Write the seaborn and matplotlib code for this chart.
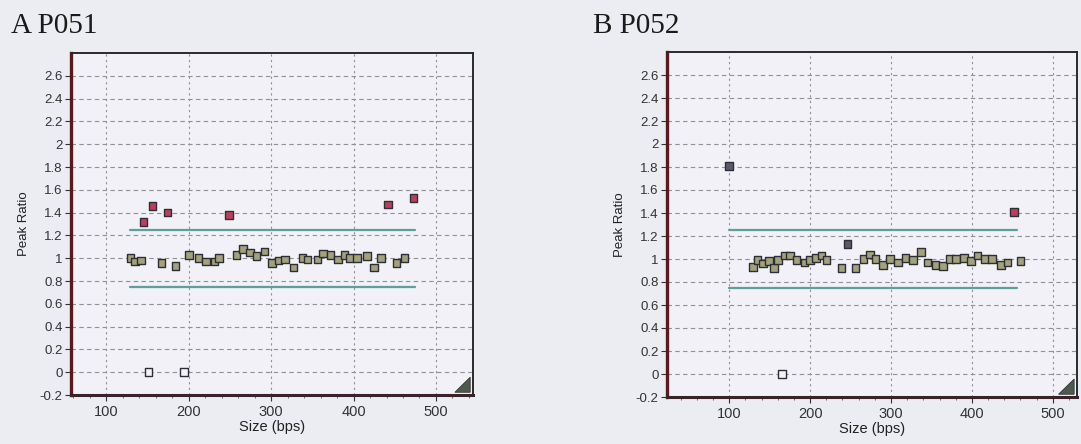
import matplotlib
matplotlib.use("Agg")
import matplotlib.pyplot as plt
from matplotlib.ticker import MultipleLocator, FuncFormatter
from matplotlib.patches import Polygon
import numpy as np
import pandas as pd
import seaborn as sns

# ---- P051 probe ratios ----
p051_size = [129, 135, 142, 167, 184, 200, 212, 221, 231, 237, 258, 266, 274, 282,
             292, 301, 309, 317, 327, 338, 344, 356, 363, 372, 381, 389, 396, 404,
             416, 425, 433, 452, 462,
             145, 156, 174, 249, 442, 473,
             151, 194]
p051_ratio = [1.00, 0.97, 0.98, 0.96, 0.93, 1.03, 1.00, 0.97, 0.97, 1.00, 1.03, 1.08,
              1.05, 1.02, 1.06, 0.96, 0.98, 0.99, 0.92, 1.00, 0.99, 0.99, 1.04, 1.03,
              0.99, 1.03, 1.00, 1.00, 1.02, 0.92, 1.00, 0.96, 1.00,
              1.32, 1.46, 1.40, 1.38, 1.47, 1.53,
              0.00, 0.00]
p051_status = ["normal"] * 33 + ["high"] * 6 + ["zero"] * 2

# ---- P052 probe ratios ----
p052_size = [129, 135, 142, 149, 155, 160, 169, 175, 183, 193, 200, 207, 214, 220,
             239, 256, 266, 274, 281, 290, 299, 309, 318, 327, 337, 345, 355, 364,
             373, 380, 390, 399, 407, 416, 425, 436, 444, 460,
             100, 246,
             452,
             165]
p052_ratio = [0.93, 0.99, 0.96, 0.98, 0.92, 0.99, 1.03, 1.03, 0.99, 0.97, 0.99, 1.01,
              1.03, 0.99, 0.92, 0.92, 1.00, 1.04, 1.00, 0.95, 1.00, 0.97, 1.01, 0.99,
              1.06, 0.97, 0.95, 0.94, 1.00, 1.00, 1.01, 0.98, 1.03, 1.00, 1.00, 0.95,
              0.97, 0.98,
              1.81, 1.13,
              1.41,
              0.00]
p052_status = ["normal"] * 38 + ["dark"] * 2 + ["high"] + ["zero"]

# Upper / lower ratio thresholds
upper_limit = 1.25
lower_limit = 0.75

y_ticks = [-0.2, 0, 0.2, 0.4, 0.6, 0.8, 1, 1.2, 1.4, 1.6, 1.8, 2, 2.2, 2.4, 2.6]
x_ticks = [100, 200, 300, 400, 500]

panels = [
    dict(title="A P051", size=p051_size, ratio=p051_ratio, status=p051_status,
         xlim=(57, 545), rect=[71 / 1081, 49 / 444, 402 / 1081, 342 / 444],
         line_end=474, title_x=11 / 1081),
    dict(title="B P052", size=p052_size, ratio=p052_ratio, status=p052_status,
         xlim=(23, 530), rect=[667 / 1081, 47 / 444, 410 / 1081, 345 / 444],
         line_end=456, title_x=593 / 1081),
]

fill_colors = {"normal": "#a3a27c", "high": "#bf3d5c", "zero": "#f4f4f8",
               "dark": "#5a5a6a"}

sns.set_theme(style="white")
plt.rcParams["font.family"] = ["Liberation Sans", "DejaVu Sans"]

fig = plt.figure(figsize=(10.81, 4.44), dpi=100)
fig.patch.set_facecolor("#ececf3")

for p in panels:
    ax = fig.add_axes(p["rect"])
    ax.set_facecolor("#f1f1f7")
    df = pd.DataFrame({"size": p["size"], "ratio": p["ratio"], "status": p["status"]})

    # threshold lines spanning the probe range
    xmin = min(p["size"])
    xmax = p["line_end"]
    ax.plot([xmin, xmax], [upper_limit, upper_limit], color="#5f9e9a", lw=1.6, zorder=2)
    ax.plot([xmin, xmax], [lower_limit, lower_limit], color="#5f9e9a", lw=1.6, zorder=2)

    sns.scatterplot(data=df, x="size", y="ratio", hue="status", palette=fill_colors,
                    marker="s", s=30, edgecolor="#2e2e36", linewidth=1.0,
                    legend=False, ax=ax, zorder=3)

    ax.set_xlim(*p["xlim"])
    ax.set_ylim(-0.2, 2.8)
    ax.set_xticks(x_ticks)
    ax.set_yticks(y_ticks)
    ax.xaxis.set_minor_locator(MultipleLocator(20))
    ax.yaxis.set_major_formatter(FuncFormatter(lambda v, _: f"{v:g}" if abs(v) > 1e-9 else "0"))
    ax.yaxis.grid(True, which="major", color="#909096", linestyle=(0, (4, 3)), linewidth=0.8)
    ax.xaxis.grid(True, which="major", color="#909096", linestyle=(0, (2, 3)), linewidth=0.8)
    ax.set_axisbelow(True)

    ax.tick_params(axis="both", which="major", direction="out", length=4, width=0.8,
                   colors="#333333", bottom=True, left=True)
    ax.tick_params(axis="x", which="major", pad=3.5, labelsize=10.5)
    ax.tick_params(axis="y", which="major", pad=2, labelsize=9.5)
    ax.tick_params(axis="x", which="minor", direction="out", length=2, width=0.6,
                   colors="#555555", bottom=True)

    ax.set_xlabel("Size (bps)", fontsize=10.5, labelpad=0.5, color="#222222")
    ax.set_ylabel("Peak Ratio", fontsize=9.5, labelpad=7, color="#222222")

    for side in ("top", "right"):
        ax.spines[side].set_color("#2a2a2a")
        ax.spines[side].set_linewidth(1.4)
    ax.spines["left"].set_color("#5a1820")
    ax.spines["left"].set_linewidth(2.4)
    ax.spines["bottom"].set_color("#3a2226")
    ax.spines["bottom"].set_linewidth(2.2)

    # resize grip in the lower-right corner
    tri = Polygon([[0.993, 0.008], [0.993, 0.052], [0.955, 0.008]], closed=True,
                  transform=ax.transAxes, facecolor="#4e5a4e", edgecolor="#333333",
                  lw=0.6, zorder=5, clip_on=False)
    ax.add_patch(tri)

    fig.text(p["title_x"], 0.925, p["title"], family=["Liberation Serif", "DejaVu Serif"],
             fontsize=21, color="#1a1a1a", ha="left", va="baseline")

fig.savefig("out.png", dpi=100, facecolor=fig.get_facecolor())
